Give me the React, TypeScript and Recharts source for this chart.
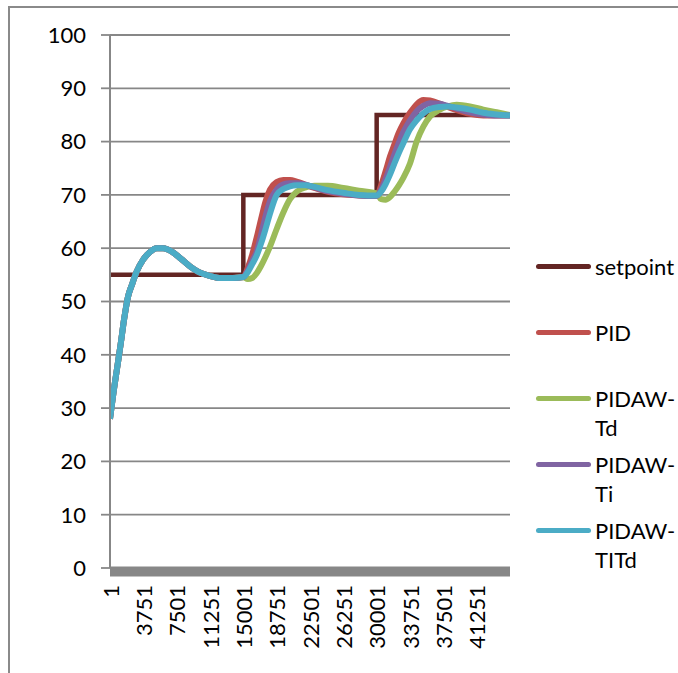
import { CartesianGrid, Legend, Line, LineChart, ReferenceArea, XAxis, YAxis } from "recharts";

// sample index (x) for every row of the controller responses
const time = [
  1, 200, 400, 800, 1200, 1600, 2000, 2500, 3000, 3750, 4500, 5250, 6000, 7000, 8000, 9000, 10000, 11250, 12500, 13750,
  15001, 15500, 16000, 16500, 17000, 17500, 18000, 18750, 19500, 20250, 21000, 22000, 23000, 24500, 26250, 28000,
  30001, 30500, 31000, 31500, 32000, 32500, 33000, 33750, 34500, 35250, 36000, 37000, 38000, 39000, 40500, 42000, 43500, 45001,
];

// all controllers behave the same until the first setpoint change
const startup = [
  28.0, 30.5, 33.0, 37.5, 42.0, 46.8, 50.7, 53.3, 55.6, 57.9, 59.3, 60.0, 60.0, 59.3, 58.0, 56.6, 55.5, 54.8, 54.4, 54.4,
];

const pid = [
  ...startup,
  54.6, 56.3, 58.8, 62.0, 65.5, 68.8, 71.0, 72.4, 72.8, 72.8, 72.5, 71.9, 71.3, 70.6, 70.1, 69.9,
  69.8, 71.8, 74.4, 77.2, 79.5, 81.7, 83.4, 85.4, 87.0, 87.8, 87.7, 87.2, 86.5, 85.9, 85.2, 84.9, 84.9, 84.9,
];
const pidawTd = [
  ...startup,
  54.6, 54.2, 54.4, 55.3, 56.7, 58.4, 60.3, 63.6, 66.7, 69.2, 70.6, 71.4, 71.7, 71.7, 71.3, 70.8,
  70.3, 69.2, 69.1, 69.6, 70.6, 71.8, 73.2, 75.9, 80.0, 82.8, 84.7, 85.9, 86.6, 86.9, 86.6, 86.0, 85.5, 85.0,
];
const pidawTi = [
  ...startup,
  54.6, 55.8, 57.6, 59.3, 62.5, 66.0, 68.8, 71.0, 72.0, 72.2, 72.2, 71.9, 71.4, 70.7, 70.2, 69.9,
  69.8, 71.0, 72.9, 75.2, 77.6, 79.8, 81.8, 84.0, 85.7, 86.7, 87.2, 87.1, 86.7, 86.2, 85.5, 85.1, 84.9, 84.9,
];
const pidawTiTd = [
  ...startup,
  54.6, 55.5, 57.0, 58.6, 60.9, 63.6, 66.5, 70.0, 71.1, 71.6, 71.8, 71.8, 71.5, 70.9, 70.4, 70.0,
  69.9, 70.6, 72.0, 73.8, 75.9, 77.9, 79.7, 82.3, 84.0, 85.3, 86.1, 86.5, 86.6, 86.4, 86.0, 85.4, 85.1, 84.9,
];

// setpoint steps
const setpointTime = [1, 15001, 30001, 45001];
const setpointValue = [55, 70, 85, 85];

const seriesOrder = ["setpoint", "PID", "PIDAW-Td", "PIDAW-Ti", "PIDAW-TITd"];
const xTicks = [1, 3751, 7501, 11251, 15001, 18751, 22501, 26251, 30001, 33751, 37501, 41251];
const yTicks = [0, 10, 20, 30, 40, 50, 60, 70, 80, 90, 100];

const rows = time.map((t, i) => ({
  t,
  pid: pid[i],
  pidawTd: pidawTd[i],
  pidawTi: pidawTi[i],
  pidawTiTd: pidawTiTd[i],
}));
const setpointRows = setpointTime.map((t, i) => ({ t, setpoint: setpointValue[i] }));

const FONT = "Lato, 'Open Sans', sans-serif";
const GRID = "#878787";

function RotatedTick({ x, y, payload }: any) {
  const ty = y + 9;
  return (
    <text
      x={x}
      y={ty}
      transform={`rotate(-90 ${x} ${ty})`}
      textAnchor="end"
      dominantBaseline="central"
      fontSize={22}
      fontFamily={FONT}
      fill="#000"
    >
      {payload.value}
    </text>
  );
}

function SideLegend({ payload }: any) {
  if (!payload) return null;
  const items = [...payload].sort(
    (a: any, b: any) => seriesOrder.indexOf(a.value) - seriesOrder.indexOf(b.value)
  );
  return (
    <div style={{ position: "relative", fontFamily: FONT, fontSize: 22, color: "#000" }}>
      {items.map((entry: any, i: number) => (
        <div key={entry.value} style={{ position: "absolute", top: i * 66, left: 0, width: 142 }}>
          <span
            style={{
              position: "absolute",
              left: 0,
              top: 12,
              width: 55,
              height: 5,
              borderRadius: 3,
              background: entry.color,
            }}
          />
          <span
            style={{
              position: "absolute",
              left: 59,
              top: 0,
              lineHeight: "29px",
              whiteSpace: "pre-line",
            }}
          >
            {String(entry.value).replace("-", "-\n")}
          </span>
        </div>
      ))}
    </div>
  );
}

export default function App() {
  return (
    <div
      style={{
        position: "absolute",
        left: 0,
        top: 0,
        width: 678,
        height: 673,
        overflow: "hidden",
        background: "#fff",
      }}
    >
      <div
        style={{
          position: "absolute",
          left: 8,
          top: 6,
          width: 900,
          height: 900,
          borderLeft: "2px solid #8a8a8a",
          borderTop: "2px solid #8a8a8a",
        }}
      />
      <LineChart
        width={678}
        height={673}
        margin={{ top: 35, right: 168, bottom: 25, left: 50 }}
        style={{ position: "absolute", left: 0, top: 0 }}
      >
        <CartesianGrid vertical={false} stroke={GRID} strokeWidth={1.8} />
        <XAxis
          type="number"
          dataKey="t"
          domain={[1, 45001]}
          ticks={xTicks}
          interval={0}
          tick={<RotatedTick />}
          tickLine={false}
          axisLine={false}
          height={80}
          allowDataOverflow
        />
        <YAxis
          type="number"
          domain={[0, 100]}
          ticks={yTicks}
          interval={0}
          width={60}
          tickSize={9}
          tickMargin={15}
          axisLine={{ stroke: GRID, strokeWidth: 2 }}
          tickLine={{ stroke: GRID, strokeWidth: 1.8 }}
          tick={{ fontSize: 22, fontFamily: FONT, fill: "#000" }}
        />
        <ReferenceArea x1={1} x2={45001} y1={-1.6} y2={0.3} fill={GRID} fillOpacity={1} stroke="none" ifOverflow="visible" />
        <Line
          data={setpointRows}
          dataKey="setpoint"
          name="setpoint"
          type="stepAfter"
          stroke="#632523"
          strokeWidth={4.5}
          dot={false}
          isAnimationActive={false}
        />
        <Line data={rows} dataKey="pid" name="PID" type="monotone" stroke="#C0504D" strokeWidth={6} dot={false} isAnimationActive={false} />
        <Line data={rows} dataKey="pidawTd" name="PIDAW-Td" type="monotone" stroke="#9BBB59" strokeWidth={6} dot={false} isAnimationActive={false} />
        <Line data={rows} dataKey="pidawTi" name="PIDAW-Ti" type="monotone" stroke="#8064A2" strokeWidth={6} dot={false} isAnimationActive={false} />
        <Line data={rows} dataKey="pidawTiTd" name="PIDAW-TITd" type="monotone" stroke="#4BACC6" strokeWidth={6} dot={false} isAnimationActive={false} />
        <Legend
          align="center"
          verticalAlign="middle"
          content={<SideLegend />}
          wrapperStyle={{ left: 536, top: 252, width: 142, height: 320 }}
        />
      </LineChart>
    </div>
  );
}
